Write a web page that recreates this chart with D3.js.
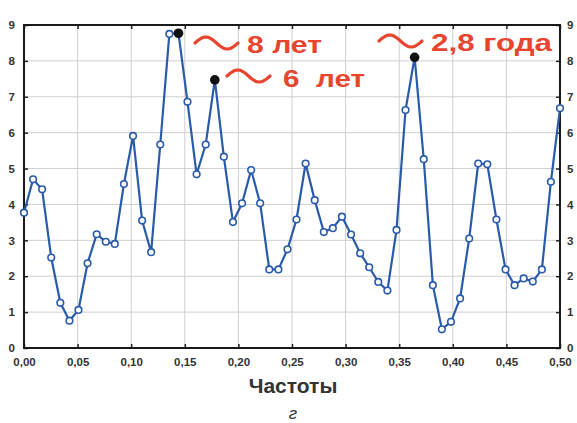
<!DOCTYPE html>
<html>
<head>
<meta charset="utf-8">
<script src="https://cdn.jsdelivr.net/npm/d3@7"></script>
<style>
  body { margin: 0; background: #fff; }
  text { font-family: "Liberation Sans", Arial, sans-serif; }
</style>
</head>
<body>
<svg id="chart" width="577" height="423"></svg>
<script>
// frequencies of the spectrum points
var freqs = [0.0000, 0.0085, 0.0169, 0.0254, 0.0339, 0.0424, 0.0508, 0.0593, 0.0678, 0.0763,
             0.0847, 0.0932, 0.1017, 0.1102, 0.1186, 0.1271, 0.1356, 0.1441, 0.1525, 0.1610,
             0.1695, 0.1780, 0.1864, 0.1949, 0.2034, 0.2119, 0.2203, 0.2288, 0.2373, 0.2458,
             0.2542, 0.2627, 0.2712, 0.2797, 0.2881, 0.2966, 0.3051, 0.3136, 0.3220, 0.3305,
             0.3390, 0.3475, 0.3559, 0.3644, 0.3729, 0.3814, 0.3898, 0.3983, 0.4068, 0.4153,
             0.4237, 0.4322, 0.4407, 0.4492, 0.4576, 0.4661, 0.4746, 0.4831, 0.4915, 0.5000];
// spectral density
var values = [3.77, 4.70, 4.42, 2.52, 1.26, 0.76, 1.06, 2.36, 3.17, 2.96,
              2.90, 4.57, 5.91, 3.55, 2.67, 5.67, 8.75, 8.77, 6.86, 4.84,
              5.67, 7.47, 5.33, 3.51, 4.03, 4.96, 4.03, 2.19, 2.19, 2.75,
              3.58, 5.14, 4.12, 3.23, 3.34, 3.66, 3.16, 2.64, 2.25, 1.84,
              1.60, 3.29, 6.63, 8.10, 5.26, 1.75, 0.52, 0.73, 1.38, 3.05,
              5.14, 5.12, 3.58, 2.19, 1.75, 1.94, 1.85, 2.19, 4.63, 6.68];
// highlighted peaks and their labels
var peakIndex = [17, 43, 21];
var peakLabels = ["8 лет", "2,8 года", "6  лет"];
var xTicks = [0, 0.05, 0.10, 0.15, 0.20, 0.25, 0.30, 0.35, 0.40, 0.45, 0.50];
var yTicks = [0, 1, 2, 3, 4, 5, 6, 7, 8, 9];

var svg = d3.select("#chart");
var plotLeft = 24, plotRight = 560, plotTop = 25, plotBottom = 348;

var x = d3.scaleLinear().domain([0, 0.5]).range([plotLeft, plotRight]);
var y = d3.scaleLinear().domain([0, 9]).range([plotBottom, plotTop]);

var ru = d3.formatLocale({decimal: ",", thousands: " ", grouping: [3], currency: ["", ""]});
var fmt = ru.format(".2f");

// grid
var grid = svg.append("g").attr("stroke", "#cfcfcf").attr("stroke-width", 1);
grid.selectAll(".gx").data(xTicks.slice(1, -1)).join("line")
    .attr("x1", d => x(d)).attr("x2", d => x(d)).attr("y1", plotTop).attr("y2", plotBottom);
grid.selectAll(".gy").data(yTicks.slice(1, -1)).join("line")
    .attr("y1", d => y(d)).attr("y2", d => y(d)).attr("x1", plotLeft).attr("x2", plotRight);

// axes
function styleAxis(g) {
    g.select(".domain").remove();
    g.selectAll(".tick line").attr("stroke", "#222").attr("stroke-width", 1.5);
    g.selectAll(".tick text").attr("fill", "#333").attr("font-weight", "bold")
        .attr("font-size", 11.5).attr("font-family", "Liberation Sans, Arial, sans-serif");
}
svg.append("g").attr("transform", "translate(0," + plotBottom + ")")
    .call(d3.axisBottom(x).tickValues(xTicks).tickFormat(fmt).tickSizeInner(-4).tickPadding(10))
    .call(styleAxis);
svg.append("g").attr("transform", "translate(0," + plotTop + ")")
    .call(d3.axisTop(x).tickValues(xTicks).tickFormat("").tickSizeInner(-4))
    .call(styleAxis);
svg.append("g").attr("transform", "translate(" + plotLeft + ",0)")
    .call(d3.axisLeft(y).tickValues(yTicks).tickSizeInner(-4).tickPadding(9))
    .call(styleAxis);
svg.append("g").attr("transform", "translate(" + plotRight + ",0)")
    .call(d3.axisRight(y).tickValues(yTicks).tickSizeInner(-4).tickPadding(7))
    .call(styleAxis);

// frame
svg.append("rect").attr("x", plotLeft).attr("y", plotTop)
    .attr("width", plotRight - plotLeft).attr("height", plotBottom - plotTop)
    .attr("fill", "none").attr("stroke", "#1a1a1a").attr("stroke-width", 2);

// series
var pts = freqs.map((f, i) => ({f: f, v: values[i], i: i}));
var line = d3.line().x(d => x(d.f)).y(d => y(d.v));
svg.append("path").datum(pts).attr("d", line)
    .attr("fill", "none").attr("stroke", "#2a5bab").attr("stroke-width", 2.2);
svg.selectAll(".pt").data(pts.filter(d => peakIndex.indexOf(d.i) < 0)).join("circle")
    .attr("cx", d => x(d.f)).attr("cy", d => y(d.v)).attr("r", 3.3)
    .attr("fill", "#fff").attr("stroke", "#2a5bab").attr("stroke-width", 1.6);
svg.selectAll(".peak").data(peakIndex).join("circle")
    .attr("cx", i => x(freqs[i])).attr("cy", i => y(values[i])).attr("r", 4.8)
    .attr("fill", "#111");

// annotations: tilde + text
var red = "#e8452f";
var notes = [
    {tx: 195, ty: 43, lx: 247, ly: 53, w: 75},
    {tx: 379, ty: 41, lx: 431, ly: 51, w: 121},
    {tx: 227, ty: 76, lx: 283, ly: 87, w: 82}
];
function tilde(x0, y0, w, h) {
    var p = d3.path();
    var n = 30;
    for (var k = 0; k <= n; k++) {
        var t = k / n;
        var px = x0 + t * w, py = y0 - Math.sin(t * 2 * Math.PI) * h;
        if (k === 0) p.moveTo(px, py); else p.lineTo(px, py);
    }
    return p.toString();
}
notes.forEach(function(n, j) {
    svg.append("path").attr("d", tilde(n.tx, n.ty, 43, 6))
        .attr("fill", "none").attr("stroke", red).attr("stroke-width", 3.2).attr("stroke-linecap", "round");
    svg.append("text").attr("x", n.lx).attr("y", n.ly)
        .attr("fill", red).attr("font-weight", "bold").attr("font-size", 24.5)
        .attr("textLength", n.w).attr("lengthAdjust", "spacingAndGlyphs")
        .style("white-space", "pre")
        .text(peakLabels[j]);
});

// axis title and caption
svg.append("text").attr("x", 293).attr("y", 393).attr("text-anchor", "middle")
    .attr("font-weight", "bold").attr("font-size", 21).attr("fill", "#333").text("Частоты");
svg.append("text").attr("x", 293).attr("y", 419).attr("text-anchor", "middle")
    .attr("font-style", "italic").attr("font-size", 17).attr("fill", "#333").text("г");
</script>
</body>
</html>
